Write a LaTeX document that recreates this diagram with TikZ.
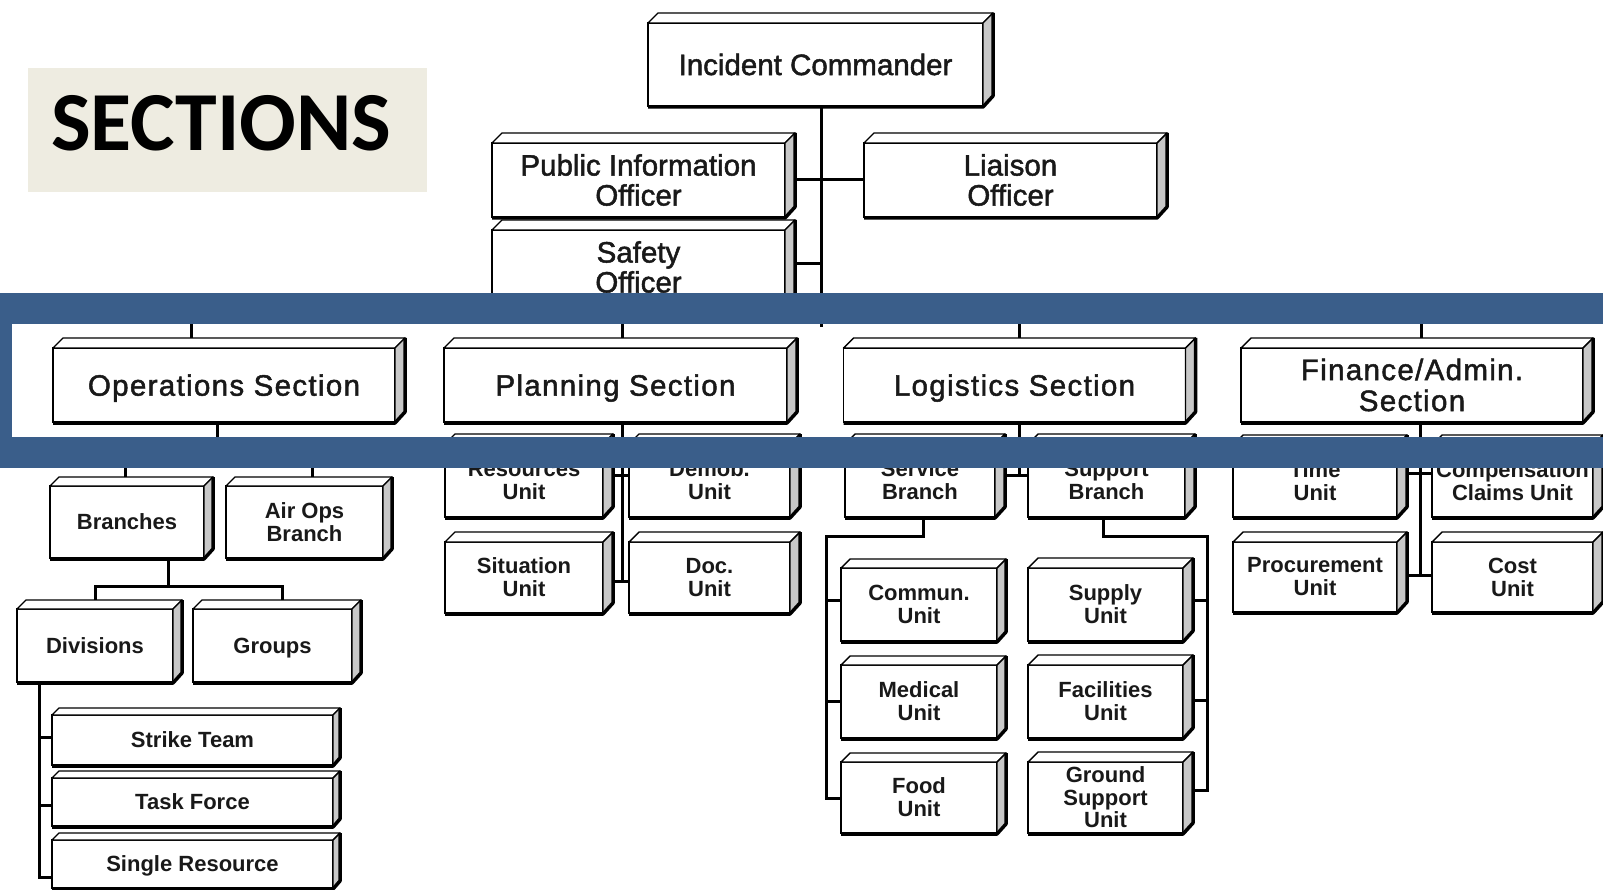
\documentclass[tikz,border=0pt]{standalone}
\usepackage{fontspec}
\setmainfont{Liberation Sans}
\newfontfamily\calib{Carlito}
\newfontfamily\bigf[FakeBold=1.6]{Liberation Sans}
\newfontfamily\secf[FakeBold=1.6,LetterSpace=4.5]{Liberation Sans}
\newcommand\nd[1]{\raisebox{0pt}[\height][0pt]{#1}}
\usetikzlibrary{calc}
\definecolor{bandblue}{RGB}{58,94,138}
\definecolor{beige}{RGB}{238,236,225}
\definecolor{sidegray}{RGB}{200,200,200}
\begin{document}
\begin{tikzpicture}[x=1pt,y=-1pt,
  bx/.style={draw=black, line width=1.6pt, fill=white, inner sep=0pt, outer sep=0pt, align=center, text=black!90},
  big/.style={bx, font=\bigf\fontsize{29.5}{30}\selectfont},
  sec/.style={bx, font=\secf\fontsize{29.5}{31}\selectfont},
  small/.style={bx, font=\bfseries\fontsize{22}{23}\selectfont},
  conn/.style={line width=3pt, black},
]
\useasboundingbox (0,0) rectangle (1603,890);
\clip (0,0) rectangle (1603,890);
\fill[white] (0,0) rectangle (1603,890);

% title
\node[fill=beige, minimum width=399pt, minimum height=124pt, inner sep=0pt, outer sep=0pt] (title) at (227.5,130) {};
\node[font=\calib\bfseries\fontsize{84}{84}\selectfont, anchor=base west, inner sep=0pt] (titletext) at (51,151) {SECTIONS};

% command staff
\node[big, minimum width=335pt, minimum height=83pt] (ic) at (815.5,64.5) {Incident Commander};
\node[big, minimum width=293pt, minimum height=74pt] (pio) at (638.5,180) {Public Information\\Officer};
\node[big, minimum width=293pt, minimum height=74pt] (safety) at (638.5,267) {Safety\\Officer};
\node[big, minimum width=293pt, minimum height=74pt] (liaison) at (1010.5,180) {Liaison\\Officer};

% sections
\node[sec, minimum width=342pt, minimum height=74pt] (ops) at (224,385) {\nd{Operations Section}};
\node[sec, minimum width=343pt, minimum height=74pt] (plan) at (615.5,385) {\nd{Planning Section}};
\node[sec, minimum width=342pt, minimum height=74pt] (logs) at (1014.5,385) {\nd{Logistics Section}};
\node[sec, minimum width=342pt, minimum height=74pt] (fin) at (1412,385) {Finance/Admin.\\Section};

% operations
\node[small, minimum width=154pt, minimum height=72pt] (br) at (127,522) {Branches};
\node[small, minimum width=157pt, minimum height=72pt] (air) at (304.5,522) {Air Ops\\Branch};
\node[small, minimum width=156pt, minimum height=73pt] (div) at (95,645.5) {Divisions};
\node[small, minimum width=159pt, minimum height=73pt] (grp) at (272.5,645.5) {\nd{Groups}};
\node[small, minimum width=281pt, minimum height=50pt] (st) at (192.5,740) {Strike Team};
\node[small, minimum width=281pt, minimum height=48pt] (tf) at (192.5,802) {Task Force};
\node[small, minimum width=281pt, minimum height=48pt] (sr) at (192.5,864) {\nd{Single Resource}};

% planning
\node[small, minimum width=158pt, minimum height=73pt] (res) at (524,480.5) {Resources\\Unit};
\node[small, minimum width=161pt, minimum height=73pt] (dem) at (709.5,480.5) {Demob.\\Unit};
\node[small, minimum width=158pt, minimum height=71pt] (sit) at (524,577.5) {Situation\\Unit};
\node[small, minimum width=161pt, minimum height=71pt] (doc) at (709.5,577.5) {Doc.\\Unit};

% logistics
\node[small, minimum width=150pt, minimum height=73pt] (svc) at (920,480.5) {Service\\Branch};
\node[small, minimum width=157pt, minimum height=73pt] (sup) at (1106.5,480.5) {Support\\Branch};
\node[small, minimum width=156pt, minimum height=73pt] (com) at (919,604.5) {Commun.\\Unit};
\node[small, minimum width=156pt, minimum height=73pt] (med) at (919,701.5) {Medical\\Unit};
\node[small, minimum width=156pt, minimum height=71pt] (food) at (919,797.5) {Food\\Unit};
\node[small, minimum width=155pt, minimum height=73pt] (supply) at (1105.5,604.5) {Supply\\Unit};
\node[small, minimum width=155pt, minimum height=73pt] (fac) at (1105.5,701.5) {Facilities\\Unit};
\node[small, minimum width=155pt, minimum height=71pt, font=\bfseries\fontsize{22}{22.5}\selectfont] (gnd) at (1105.5,797.5) {Ground\\Support\\Unit};

% finance
\node[small, minimum width=164pt, minimum height=72pt] (time) at (1315,481) {Time\\Unit};
\node[small, minimum width=161pt, minimum height=72pt] (comp) at (1512.5,481) {Compensation\\Claims Unit};
\node[small, minimum width=164pt, minimum height=70pt] (proc) at (1315,577) {Procurement\\Unit};
\node[small, minimum width=161pt, minimum height=70pt] (cost) at (1512.5,577) {Cost\\Unit};

% 3D faces
\foreach \n/\d in {ic/10,pio/10,safety/10,liaison/10,ops/10,plan/10,logs/10,fin/10,
  br/9,air/9,div/9,grp/9,st/7,tf/7,sr/7,res/10,dem/10,sit/10,doc/10,
  svc/10,sup/10,com/9,med/9,food/9,supply/10,fac/10,gnd/10,time/10,comp/10,proc/10,cost/10}{
  \filldraw[fill=white, line width=1.4pt, line join=round] (\n.north west) -- ++(\d,-\d) -- ($(\n.north east)+(\d,-\d)$) -- (\n.north east) -- cycle;
  \filldraw[fill=sidegray, line width=1.4pt, line join=round] (\n.north east) -- ++(\d,-\d) -- ($(\n.south east)+(\d,-\d)$) -- (\n.south east) -- cycle;
  \draw[line width=3.5pt, line join=round] ($(\n.south west)+(0,1)$) -- ($(\n.south east)+(0,1)$) -- ($(\n.south east)+(\d,-\d)$) -- ($(\n.north east)+(\d,-\d)$);
}

% command connectors
\coordinate (icx) at ($(ic.south)+(5.5,0)$);
\draw[conn] (icx) -- ($(icx)+(0,221)$);
\draw[conn] ($(pio.east)+(10,0)$) -- (pio.east -| icx);
\draw[conn] (liaison.west) -- (liaison.west -| icx);
\draw[conn] ($(safety.east)+(10,-3)$) -- ($(safety.east -| icx)+(0,-3)$);

% section bus
\draw[conn] ($(ops.north)+(-33,-10)$) -- ++(0,-26) -| ($(fin.north)+(9,-10)$);
\draw[conn] ($(plan.north)+(6.5,-10)$) -- ++(0,-26);
\draw[conn] ($(logs.north)+(4.5,-10)$) -- ++(0,-26);

% operations connectors
\draw[conn] ($(ops.south)+(-7,0)$) -- ++(0,33);
\draw[conn] ($(br.north)+(-2,-9)$) -- ++(0,-22) -| ($(air.north)+(7.5,-9)$);
\draw[conn] ($(br.south)+(41,1)$) -- ++(0,27);
\draw[conn] ($(div.north)+(0,-9)$) -- ++(0,-14) -| ($(grp.north)+(9.5,-9)$);
\coordinate (divx) at ($(div.south west)+(22,2)$);
\draw[conn] (divx) |- ($(sr.south west)+(0,-11)$);
\draw[conn] ($(st.west)+(0,-3)$) -- ($(st.west -| divx)+(0,-3)$);
\draw[conn] ($(tf.west)+(0,3)$) -- ($(tf.west -| divx)+(0,3)$);

% planning connectors
\coordinate (plx) at ($(plan.south)+(6.5,1)$);
\draw[conn] (plx) -- ($(plx |- sit.east)+(0,4)$);
\draw[conn] ($(res.east)+(10,-5)$) -- ($(dem.west)+(0,-5)$);
\draw[conn] ($(sit.east)+(10,4)$) -- ($(doc.west)+(0,4)$);

% logistics connectors
\coordinate (lgx) at ($(logs.south)+(4.5,1)$);
\draw[conn] (lgx) -- ($(lgx |- svc.east)+(0,-5)$);
\draw[conn] ($(svc.east)+(10,-5)$) -- ($(sup.west)+(0,-5)$);
\draw[conn] ($(svc.south)+(3,1)$) -- ++(0,18) -| ($(food.west)+(-15,0.5)$) -- ($(food.west)+(0,0.5)$);
\draw[conn] ($(com.west)+(-15,-4.5)$) -- ($(com.west)+(0,-4.5)$);
\draw[conn] ($(med.west)+(-15,0)$) -- (med.west);
\draw[conn] ($(sup.south)+(-3.5,1)$) -- ++(0,18) -| ($(gnd.east)+(24,-7.5)$) -- ($(gnd.east)+(10,-7.5)$);
\draw[conn] ($(supply.east)+(10,-4.5)$) -- ($(supply.east)+(24,-4.5)$);
\draw[conn] ($(fac.east)+(10,-1.5)$) -- ($(fac.east)+(24,-1.5)$);

% finance connectors
\coordinate (fnx) at ($(fin.south)+(8,1)$);
\draw[conn] (fnx) -- ($(fnx |- proc.east)+(0,-2)$);
\draw[conn] ($(time.east)+(10,-8)$) -- ($(comp.west)+(0,-8)$);
\draw[conn] ($(proc.east)+(10,-2)$) -- ($(cost.west)+(0,-2)$);

% blue frame
\draw[bandblue, line width=31pt] (-3.5,308.5) rectangle (1660,452.5);
\end{tikzpicture}
\end{document}
